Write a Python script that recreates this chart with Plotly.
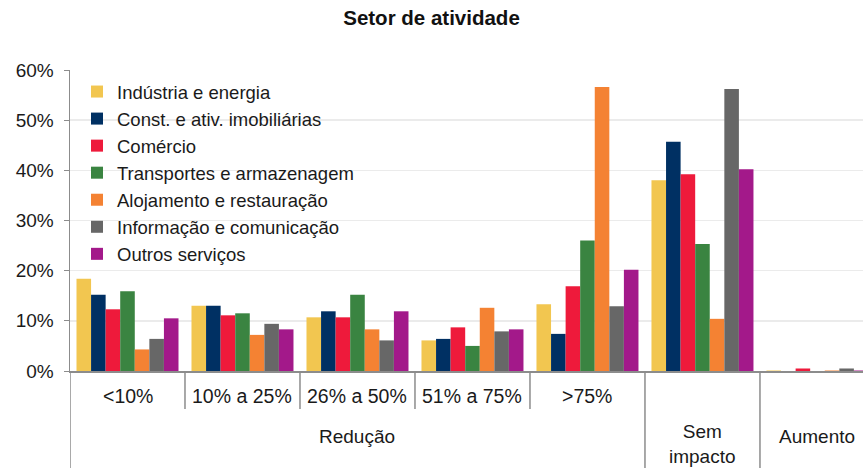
import plotly.graph_objects as go

# ---- data ----
categories = ["<10%", "10% a 25%", "26% a 50%", "51% a 75%", ">75%", "Sem impacto", "Aumento"]
inner_labels = ["<10%", "10% a 25%", "26% a 50%", "51% a 75%", ">75%"]
outer_labels = ["Redução", "Sem<br>impacto", "Aumento"]

series_names = [
    "Indústria e energia",
    "Const. e ativ. imobiliárias",
    "Comércio",
    "Transportes e armazenagem",
    "Alojamento e restauração",
    "Informação e comunicação",
    "Outros serviços",
]
industria = [18.4, 13.0, 10.7, 6.1, 13.3, 38.0, 0.1]
construcao = [15.2, 13.0, 11.9, 6.4, 7.4, 45.7, 0.0]
comercio = [12.3, 11.1, 10.7, 8.7, 16.9, 39.2, 0.5]
transportes = [15.9, 11.5, 15.2, 5.0, 26.0, 25.3, 0.0]
alojamento = [4.3, 7.2, 8.3, 12.6, 56.6, 10.4, 0.1]
informacao = [6.4, 9.4, 6.1, 7.9, 12.9, 56.2, 0.5]
outros = [10.5, 8.3, 11.9, 8.3, 20.2, 40.2, 0.1]
series_values = [industria, construcao, comercio, transportes, alojamento, informacao, outros]

colors = ["#F2C650", "#003063", "#EE1A3B", "#3A8441", "#F48233", "#676767", "#A3198A"]

FONT = "Liberation Sans, Arial, sans-serif"
AXIS_GRAY = "#8c8c8c"
TXT = "#1a1a1a"

fig = go.Figure()
for name, vals, col in zip(series_names, series_values, colors):
    fig.add_trace(go.Bar(x=categories, y=vals, name=name, marker=dict(color=col, line=dict(width=0))))

# x range: the plot continues a little beyond the right edge of the image
x_range = [-0.5, 6.396]

W, H = 863, 468
ML, MT, MB = 70, 70, 97
plot_w = W - ML
plot_h = H - MT - MB

fig.update_layout(
    width=W, height=H,
    margin=dict(l=ML, r=0, t=MT, b=MB, pad=0),
    paper_bgcolor="white", plot_bgcolor="white",
    barmode="group", bargap=0.113, bargroupgap=0,
    font=dict(family=FONT, size=19, color=TXT),
    title=dict(text="<b>Setor de atividade</b>", x=0.5, xref="container", xanchor="center",
               y=1 - 18 / H, yref="container", yanchor="middle",
               font=dict(family=FONT, size=20.5, color="#111111")),
    showlegend=True,
    legend=dict(x=7 / plot_w, y=0.99, xanchor="left", yanchor="top", bgcolor="rgba(0,0,0,0)",
                font=dict(family=FONT, size=18.5, color=TXT), traceorder="normal"),
    xaxis=dict(range=x_range, showticklabels=False, ticks="", showgrid=False,
               showline=True, linecolor=AXIS_GRAY, linewidth=1.5, zeroline=False,
               fixedrange=True),
    yaxis=dict(range=[0, 60], dtick=10, ticksuffix="%", showgrid=True, gridcolor="#ebebeb",
               gridwidth=1.5, showline=True, linecolor=AXIS_GRAY, linewidth=1.5,
               ticks="outside", ticklen=5, tickcolor=AXIS_GRAY, zeroline=False,
               ticklabelstandoff=6,
               tickfont=dict(family=FONT, size=19, color=TXT)),
)

# divider lines of the two-level category axis
bottom = -MB / plot_h
inner_bottom = -(409 - 371) / plot_h
for i in range(len(inner_labels) - 1):
    fig.add_shape(type="line", xref="x", yref="paper", x0=i + 0.5, x1=i + 0.5, y0=0, y1=inner_bottom,
                  line=dict(color=AXIS_GRAY, width=1.5))
for xb in [-0.5, len(inner_labels) - 0.5, len(inner_labels) + 0.5]:
    fig.add_shape(type="line", xref="x", yref="paper", x0=xb, x1=xb, y0=0, y1=bottom,
                  line=dict(color=AXIS_GRAY, width=1.5))

# inner labels
for i, lab in enumerate(inner_labels):
    fig.add_annotation(x=i, y=-(396 - 371) / plot_h, xref="x", yref="paper", text=lab,
                       showarrow=False, xanchor="center", yanchor="middle",
                       font=dict(family=FONT, size=19.5, color=TXT))

# outer labels (the two-line label is centred a little lower so its first line aligns)
outer_x = [(len(inner_labels) - 1) / 2, len(inner_labels), len(inner_labels) + 1]
for xo, lab in zip(outer_x, outer_labels):
    ymid = 444 if "<br>" in lab else 437
    fig.add_annotation(x=xo, y=-(ymid - 371) / plot_h, xref="x", yref="paper", text=lab,
                       showarrow=False, xanchor="center", yanchor="middle",
                       font=dict(family=FONT, size=19, color=TXT))

fig.write_html("out.html", config={"displayModeBar": False, "staticPlot": True})

# remove the browser's default page margin so the figure sits at the window origin
with open("out.html", "r", encoding="utf-8") as f:
    html = f.read()
html = html.replace("<head>", "<head><style>html,body{margin:0;padding:0;overflow:hidden;}</style>", 1)
with open("out.html", "w", encoding="utf-8") as f:
    f.write(html)
